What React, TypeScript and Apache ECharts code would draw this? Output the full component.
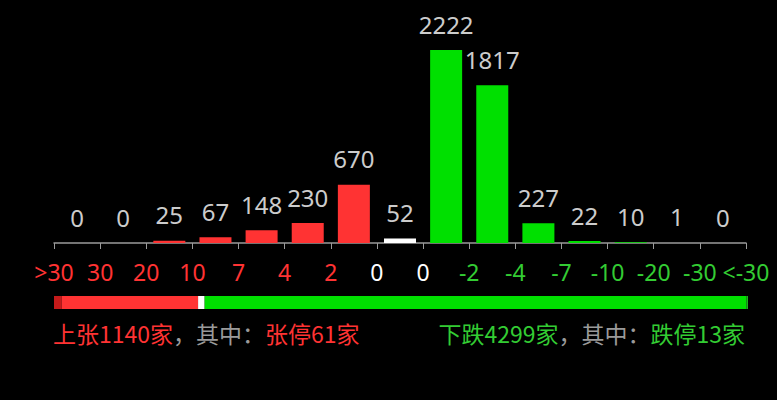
import { useEffect, useRef } from "react";
import * as echarts from "echarts";

// boundary labels (16) and counts per band (15)
const rangeLabels = [">30", "30", "20", "10", "7", "4", "2", "0", "0", "-2", "-4", "-7", "-10", "-20", "-30", "<-30"];
const bandCounts = [0, 0, 25, 67, 148, 230, 670, 52, 2222, 1817, 227, 22, 10, 1, 0];
const bandKinds = ["up", "up", "up", "up", "up", "up", "up", "flat", "down", "down", "down", "down", "down", "down", "down"];

const upTotal = [1140];
const limitUp = [61];
const flatTotal = [52];
const downTotal = [4299];
const limitDown = [13];

const RED = "#ff3333";
const GREEN = "#00e000";
const TEXT_GREEN = "#33cc33";
const FONT = "'Noto Sans', 'Noto Sans CJK SC', sans-serif";
const CJK = "'Noto Sans CJK SC', sans-serif";

export default function App() {
  const chartRef = useRef<HTMLDivElement>(null);

  useEffect(() => {
    if (!chartRef.current) return;
    const chart = echarts.init(chartRef.current, undefined, { renderer: "svg" });
    const total = upTotal[0] + flatTotal[0] + downTotal[0];
    const kindColor = (k: string) => (k === "up" ? RED : k === "flat" ? "#ffffff" : GREEN);
    const ratioBar = (value: number, color: string) => ({
      type: "bar" as const,
      xAxisIndex: 2,
      yAxisIndex: 1,
      stack: "ratio",
      barWidth: "100%",
      itemStyle: { color },
      data: [value]
    });

    const option: echarts.EChartsOption = {
      animation: false,
      backgroundColor: "#000000",
      grid: [
        { left: 54, right: 31, top: 50, bottom: 157 },
        { left: 54, right: 29, top: 296, height: 13 }
      ],
      xAxis: [
        {
          type: "category",
          gridIndex: 0,
          data: bandCounts.map((_, i) => String(i)),
          boundaryGap: true,
          axisLine: { lineStyle: { color: "#9a9a9a", width: 1.5 } },
          axisTick: { show: true, length: 6, lineStyle: { color: "#9a9a9a" } },
          axisLabel: { show: false }
        },
        {
          type: "category",
          gridIndex: 0,
          position: "bottom",
          data: rangeLabels,
          boundaryGap: false,
          axisLine: { show: false },
          axisTick: { show: false },
          axisLabel: {
            interval: 0,
            margin: 17,
            fontSize: 23,
            fontFamily: FONT,
            color: ((_v: string, i: number) => (i < 7 ? RED : i < 9 ? "#ffffff" : TEXT_GREEN)) as any
          }
        },
        {
          type: "value",
          gridIndex: 1,
          min: 0,
          max: total,
          show: false
        }
      ],
      yAxis: [
        { type: "value", gridIndex: 0, min: 0, max: Math.max(...bandCounts), show: false },
        { type: "category", gridIndex: 1, data: ["all"], show: false }
      ],
      series: [
        {
          type: "bar",
          xAxisIndex: 0,
          yAxisIndex: 0,
          barWidth: 32,
          data: bandCounts.map((v, i) => ({ value: v, itemStyle: { color: kindColor(bandKinds[i]) } })),
          label: {
            show: true,
            position: "top",
            distance: 14,
            color: "#cccccc",
            fontSize: 24,
            fontFamily: FONT
          }
        },
        ratioBar(limitUp[0], "#c41a1a"),
        ratioBar(upTotal[0] - limitUp[0], RED),
        ratioBar(flatTotal[0], "#ffffff"),
        ratioBar(downTotal[0] - limitDown[0], GREEN),
        ratioBar(limitDown[0], "#1fb21f")
      ],
      graphic: [
        {
          type: "text",
          left: 53,
          top: 321,
          style: {
            text: `{r|上张${upTotal[0]}家}{g|，其中：}{r|张停${limitUp[0]}家}`,
            rich: {
              r: { fill: RED, fontSize: 23, fontFamily: CJK },
              g: { fill: "#9a9a9a", fontSize: 23, fontFamily: CJK }
            }
          } as any
        },
        {
          type: "text",
          right: 32,
          top: 321,
          style: {
            text: `{d|下跌${downTotal[0]}家}{g|，其中：}{d|跌停${limitDown[0]}家}`,
            rich: {
              d: { fill: TEXT_GREEN, fontSize: 23, fontFamily: CJK },
              g: { fill: "#9a9a9a", fontSize: 23, fontFamily: CJK }
            }
          } as any
        }
      ]
    };

    chart.setOption(option);
    return () => {
      chart.dispose();
    };
  }, []);

  return (
    <div
      ref={chartRef}
      style={{ position: "fixed", left: 0, top: 0, width: 777, height: 400, background: "#000" }}
    />
  );
}
